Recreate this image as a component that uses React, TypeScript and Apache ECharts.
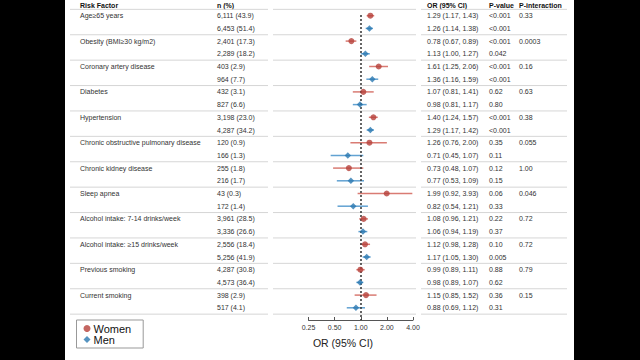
import React, { useEffect, useRef } from "react";
import * as echarts from "echarts";

const factors = [
  "Age≥65 years",
  "Obesity (BMI≥30 kg/m2)",
  "Coronary artery disease",
  "Diabetes",
  "Hypertension",
  "Chronic obstructive pulmonary disease",
  "Chronic kidney disease",
  "Sleep apnea",
  "Alcohol intake: 7-14 drinks/week",
  "Alcohol intake: ≥15 drinks/week",
  "Previous smoking",
  "Current smoking",
];
const seriesNames = ["Women", "Men"];

const womenN = ["6,111 (43.9)", "2,401 (17.3)", "403 (2.9)", "432 (3.1)", "3,198 (23.0)", "120 (0.9)", "255 (1.8)", "43 (0.3)", "3,961 (28.5)", "2,556 (18.4)", "4,287 (30.8)", "398 (2.9)"];
const menN = ["6,453 (51.4)", "2,289 (18.2)", "964 (7.7)", "827 (6.6)", "4,287 (34.2)", "166 (1.3)", "216 (1.7)", "172 (1.4)", "3,336 (26.6)", "5,256 (41.9)", "4,573 (36.4)", "517 (4.1)"];

const womenOR = [1.29, 0.78, 1.61, 1.07, 1.4, 1.26, 0.73, 1.99, 1.08, 1.12, 0.99, 1.15];
const womenLo = [1.17, 0.67, 1.25, 0.81, 1.24, 0.76, 0.48, 0.92, 0.96, 0.98, 0.89, 0.85];
const womenHi = [1.43, 0.89, 2.06, 1.41, 1.57, 2.0, 1.07, 3.93, 1.21, 1.28, 1.11, 1.52];
const menOR = [1.26, 1.13, 1.36, 0.98, 1.29, 0.71, 0.77, 0.82, 1.06, 1.17, 0.98, 0.88];
const menLo = [1.14, 1.0, 1.16, 0.81, 1.17, 0.45, 0.53, 0.54, 0.94, 1.05, 0.89, 0.69];
const menHi = [1.38, 1.27, 1.59, 1.17, 1.42, 1.07, 1.09, 1.21, 1.19, 1.3, 1.07, 1.12];

const womenP = ["<0.001", "<0.001", "<0.001", "0.62", "<0.001", "0.35", "0.12", "0.06", "0.22", "0.10", "0.88", "0.36"];
const menP = ["<0.001", "0.042", "<0.001", "0.80", "<0.001", "0.11", "0.15", "0.33", "0.37", "0.005", "0.62", "0.31"];
const pInteraction = ["0.33", "0.0003", "0.16", "0.63", "0.38", "0.055", "1.00", "0.046", "0.72", "0.72", "0.79", "0.15"];

const headers = ["Risk Factor", "n (%)", "OR (95% CI)", "P-value", "P-interaction"];
const axisTicks = [0.25, 0.5, 1, 2, 4];
const axisTitle = "OR (95% CI)";

const FONT = "'Liberation Sans', Arial, sans-serif";
const W_DOT = "#b5403a";
const W_LINE = "#d97b73";
const M_DOT = "#2a78b0";
const M_LINE = "#62a2d2";

// layout
const ROW_TOP = 9.35;
const PITCH = 12.7;
const NROWS = 24;
const AXIS_Y = 320;
const COL_X = [15, 152, 362, 424, 454];
const SEG = [
  [5, 203],
  [208, 351],
  [356, 502],
];

function rowY(i: number) {
  return ROW_TOP + (i + 0.5) * PITCH;
}

export default function App() {
  const ref = useRef<HTMLDivElement>(null);
  useEffect(() => {
    if (!ref.current) return;
    const chart = echarts.init(ref.current, undefined, { renderer: "svg" });

    const graphics: any[] = [];
    const txt = (x: number, y: number, s: string, bold = false) =>
      graphics.push({
        type: "text",
        x,
        y,
        silent: true,
        style: {
          text: s,
          fontSize: 7,
          fontFamily: FONT,
          fontWeight: bold ? "bold" : "normal",
          fill: bold ? "#111" : "#333",
          textVerticalAlign: "middle",
          textAlign: "left",
        },
      });
    headers.forEach((h, i) => txt(COL_X[i], 5.7, h, true));
    factors.forEach((f, k) => {
      const yw = rowY(2 * k);
      const ym = rowY(2 * k + 1);
      txt(COL_X[0], yw, f);
      txt(COL_X[1], yw, womenN[k]);
      txt(COL_X[1], ym, menN[k]);
      txt(COL_X[2], yw, `${womenOR[k].toFixed(2)} (${womenLo[k].toFixed(2)}, ${womenHi[k].toFixed(2)})`);
      txt(COL_X[2], ym, `${menOR[k].toFixed(2)} (${menLo[k].toFixed(2)}, ${menHi[k].toFixed(2)})`);
      txt(COL_X[3], yw, womenP[k]);
      txt(COL_X[3], ym, menP[k]);
      txt(COL_X[4], yw, pInteraction[k]);
    });
    for (let k = 0; k <= factors.length; k++) {
      const y = ROW_TOP + k * 2 * PITCH;
      SEG.forEach(([a, b]) =>
        graphics.push({
          type: "line",
          silent: true,
          shape: { x1: a, y1: y, x2: b, y2: y },
          style: { stroke: "#d6d6d6", lineWidth: 1 },
        })
      );
    }
    graphics.push({
      type: "text",
      x: 278,
      y: 343,
      silent: true,
      style: {
        text: axisTitle,
        fontSize: 10.5,
        fontFamily: FONT,
        fill: "#222",
        textAlign: "center",
        textVerticalAlign: "middle",
      },
    });

    const yMax = NROWS - 0.5 + (AXIS_Y - (ROW_TOP + NROWS * PITCH)) / PITCH;

    const ciSeries = (lo: number[], hi: number[], offset: number, color: string) => ({
      type: "custom",
      silent: true,
      encode: { x: [0, 1], y: 2 },
      data: lo.map((l, k) => [l, hi[k], 2 * k + offset]),
      renderItem: (params: any, api: any) => {
        const a = api.coord([api.value(0), api.value(2)]);
        const b = api.coord([api.value(1), api.value(2)]);
        return {
          type: "line",
          shape: { x1: a[0], y1: a[1], x2: b[0], y2: b[1] },
          style: { stroke: color, lineWidth: 1.5 },
        };
      },
      z: 3,
    });

    chart.setOption({
      animation: false,
      backgroundColor: "#fff",
      textStyle: { fontFamily: FONT },
      grid: {
        left: 243.5,
        width: 104.5,
        top: ROW_TOP,
        height: AXIS_Y - ROW_TOP,
        containLabel: false,
      },
      xAxis: {
        type: "log",
        logBase: 2,
        position: "bottom",
        min: axisTicks[0],
        max: axisTicks[axisTicks.length - 1],
        axisLine: { show: true, onZero: false, lineStyle: { color: "#555", width: 1 } },
        axisTick: { show: true, inside: true, length: 3, lineStyle: { color: "#555" } },
        splitLine: { show: false },
        axisLabel: {
          fontSize: 7,
          color: "#333",
          margin: 4,
          fontFamily: FONT,
          formatter: (v: number) => v.toFixed(2),
        },
      },
      yAxis: {
        type: "value",
        inverse: true,
        min: -0.5,
        max: yMax,
        show: false,
      },
      legend: {
        orient: "vertical",
        left: 11.5,
        top: 320,
        data: seriesNames,
        padding: [3, 12, 3, 7],
        itemGap: 0,
        itemWidth: 7,
        itemHeight: 7,
        borderColor: "#999",
        borderWidth: 1,
        textStyle: { fontSize: 11, lineHeight: 9, color: "#111", fontFamily: FONT, padding: [0, 0, 0, -2] },
      },
      series: [
        ciSeries(womenLo, womenHi, 0, W_LINE),
        ciSeries(menLo, menHi, 1, M_LINE),
        {
          name: seriesNames[0],
          type: "scatter",
          symbol: "circle",
          symbolSize: 6,
          itemStyle: { color: W_DOT },
          data: womenOR.map((v, k) => [v, 2 * k]),
          z: 5,
          markLine: {
            silent: true,
            symbol: "none",
            label: { show: false },
            lineStyle: { color: "#333", type: [2, 2], width: 1.5 },
            data: [[{ coord: [1, -0.05] }, { coord: [1, yMax] }]],
          },
        },
        {
          name: seriesNames[1],
          type: "scatter",
          symbol: "diamond",
          symbolSize: 6.5,
          itemStyle: { color: M_DOT },
          data: menOR.map((v, k) => [v, 2 * k + 1]),
          z: 5,
        },
      ],
      graphic: graphics,
    });
    return () => chart.dispose();
  }, []);

  return (
    <div style={{ position: "fixed", left: 0, top: 0, width: 640, height: 360, background: "#000" }}>
      <div ref={ref} style={{ position: "absolute", left: 65, top: 0, width: 509, height: 360, background: "#fff" }} />
    </div>
  );
}
